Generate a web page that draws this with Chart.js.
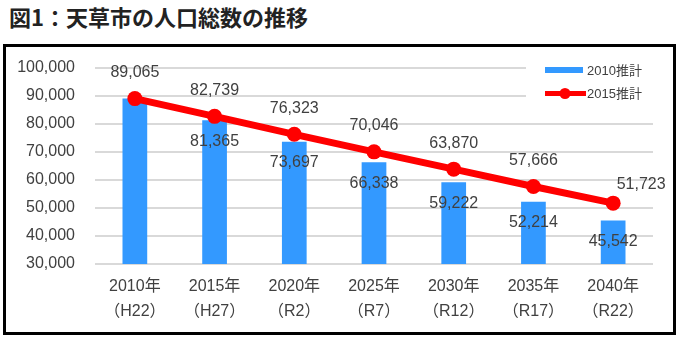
<!DOCTYPE html>
<html>
<head>
<meta charset="utf-8">
<script src="https://cdn.jsdelivr.net/npm/chart.js@4/dist/chart.umd.min.js"></script>
<style>
    html, body { margin: 0; padding: 0; background: #fff; }
    body { width: 681px; height: 340px; position: relative; overflow: hidden; }
    #title {
        position: absolute; left: 9px; top: 5px;
        font: bold 22px/23px "Noto Sans CJK JP", sans-serif;
        color: #222;
        white-space: nowrap;
    }
    #frame {
        position: absolute; left: 3px; top: 44px;
        width: 673px; height: 291px;
        border: 3px solid #000; box-sizing: border-box;
    }
    #chart { position: absolute; left: 0; top: 0; }
</style>
</head>
<body>
<div id="title">図1：天草市の人口総数の推移</div>
<div id="frame"><canvas id="chart" width="667" height="285"></canvas></div>
<script>
// data
var years = ['2010年', '2015年', '2020年', '2025年', '2030年', '2035年', '2040年'];
var eras = ['（H22）', '（H27）', '（R2）', '（R7）', '（R12）', '（R17）', '（R22）'];
var est2010 = [89065, 81365, 73697, 66338, 59222, 52214, 45542];
var est2015 = [89065, 82739, 76323, 70046, 63870, 57666, 51723];
var seriesNames = ['2010推計', '2015推計'];
var yTicks = [30000, 40000, 50000, 60000, 70000, 80000, 90000, 100000];

var BLUE = '#3399ff';
var RED = '#ff0000';
var TEXT = '#404040';
var FONT = '"Liberation Sans", "Noto Sans CJK JP", sans-serif';

function fmt(v) { return v.toLocaleString('en-US'); }

// value labels (bars: inside end, line: above; last point to the right)
var valueLabels = {
    id: 'valueLabels',
    afterDatasetsDraw: function (chart) {
        var ctx = chart.ctx;
        ctx.save();
        ctx.font = '16px ' + FONT;
        ctx.fillStyle = TEXT;
        ctx.textAlign = 'center';
        ctx.textBaseline = 'middle';
        chart.getDatasetMeta(0).data.forEach(function (bar, i) {
            if (est2010[i] === est2015[i]) return;
            ctx.fillText(fmt(est2010[i]), bar.x, bar.y + 21);
        });
        var pts = chart.getDatasetMeta(1).data;
        pts.forEach(function (pt, i) {
            if (i === pts.length - 1) {
                ctx.fillText(fmt(est2015[i]), pt.x + 28, pt.y - 19);
            } else {
                ctx.fillText(fmt(est2015[i]), pt.x, pt.y - 26);
            }
        });
        ctx.restore();
    }
};

// legend in the top right corner of the plot, on a white patch
var cornerLegend = {
    id: 'cornerLegend',
    beforeDatasetsDraw: function (chart) {
        var ctx = chart.ctx;
        var a = chart.chartArea;
        ctx.save();
        ctx.fillStyle = '#fff';
        ctx.fillRect(a.right - 127, a.top - 12, 140, 50);
        ctx.font = '13px ' + FONT;
        ctx.fillStyle = TEXT;
        ctx.textAlign = 'left';
        ctx.textBaseline = 'middle';
        chart.data.datasets.forEach(function (ds, i) {
            var y = a.top + 2 + i * 23.5;
            var x0 = a.right - 108;
            if (ds.type === 'line') {
                ctx.strokeStyle = ds.borderColor;
                ctx.lineWidth = 5;
                ctx.beginPath();
                ctx.moveTo(x0, y);
                ctx.lineTo(x0 + 41, y);
                ctx.stroke();
                ctx.fillStyle = ds.borderColor;
                ctx.beginPath();
                ctx.arc(x0 + 20, y, 5.5, 0, Math.PI * 2);
                ctx.fill();
            } else {
                ctx.fillStyle = ds.backgroundColor;
                ctx.fillRect(x0, y - 3, 38, 6);
            }
            ctx.fillStyle = TEXT;
            ctx.fillText(ds.label, a.right - 66, y + 1);
        });
        ctx.restore();
    }
};

new Chart(document.getElementById('chart').getContext('2d'), {
    type: 'bar',
    data: {
        labels: years.map(function (y, i) { return [y, eras[i]]; }),
        datasets: [
            {
                type: 'bar',
                label: seriesNames[0],
                data: est2010,
                backgroundColor: BLUE,
                borderWidth: 0,
                categoryPercentage: 1,
                barPercentage: 0.31,
                order: 2,
            },
            {
                type: 'line',
                label: seriesNames[1],
                data: est2015,
                borderColor: RED,
                backgroundColor: RED,
                borderWidth: 7,
                pointRadius: 7.5,
                pointBorderWidth: 0,
                pointBackgroundColor: RED,
                tension: 0,
                order: 1,
            },
        ],
    },
    plugins: [cornerLegend, valueLabels],
    options: {
        responsive: false,
        animation: false,
        layout: { padding: { top: 21, right: 20, left: 0, bottom: 0 } },
        plugins: {
            legend: { display: false },
            tooltip: { enabled: false },
        },
        scales: {
            x: {
                grid: { display: false, drawTicks: false },
                border: { display: false },
                ticks: {
                    color: TEXT,
                    font: { size: 16, family: FONT, lineHeight: 1.55 },
                    padding: 10,
                    maxRotation: 0,
                    autoSkip: false,
                },
                afterFit: function (s) { s.height = 68; },
            },
            y: {
                min: yTicks[0],
                max: yTicks[yTicks.length - 1],
                afterBuildTicks: function (s) {
                    s.ticks = yTicks.map(function (v) { return { value: v }; });
                },
                grid: {
                    color: '#d9d9d9',
                    lineWidth: 2,
                    drawTicks: true,
                    tickLength: 20,
                    tickColor: 'rgba(0,0,0,0)',
                },
                border: { display: false },
                ticks: {
                    color: TEXT,
                    font: { size: 16, family: FONT },
                    padding: 0,
                    callback: function (v) { return fmt(v); },
                },
                afterFit: function (s) { s.width = 89; },
            },
        },
    },
});
</script>
</body>
</html>
